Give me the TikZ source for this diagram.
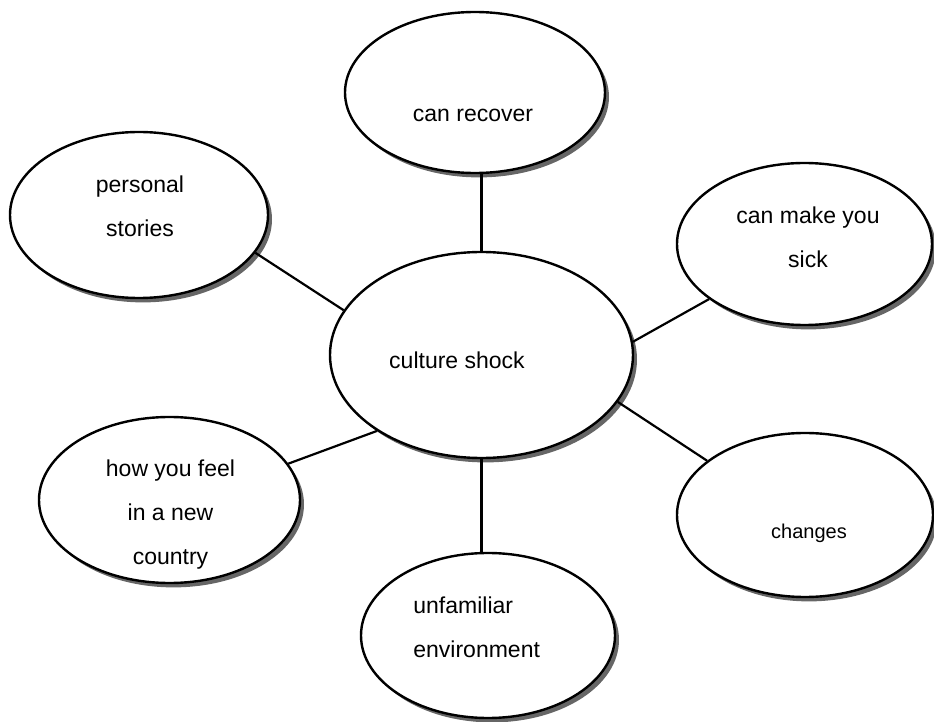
\documentclass[tikz,border=0pt]{standalone}
\usepackage{fontspec}
\setmainfont{Liberation Sans}
\usepackage{tikz}
\usetikzlibrary{shapes,shadows,positioning}
\tikzset{
    bubble/.style={ellipse,draw,line width=1.2pt,fill=white,inner sep=0pt,
        drop shadow={shadow xshift=2pt,shadow yshift=-2.2pt,fill=black!60,opacity=1}},
    bubbletext/.style={inner sep=0pt,align=center,font=\fontsize{11.5}{22}\selectfont},
    link/.style={draw,line width=1.1pt},
}
\begin{document}
\begin{tikzpicture}[x=0.5pt,y=-0.5pt]
\useasboundingbox (0,0) rectangle (934,722);

\node[bubble,minimum width=130pt,minimum height=80.5pt]   (recover)    at (475,92.5) {};
\node[bubble,minimum width=129pt,minimum height=83pt]     (personal)   at (139,215)  {};
\node[bubble,minimum width=127.5pt,minimum height=81pt]   (sick)       at (804.5,244) {};
\node[bubble,minimum width=151.5pt,minimum height=103pt]  (shock)      at (481.5,355) {};
\node[bubble,minimum width=130.5pt,minimum height=83pt]   (feel)       at (169.5,500) {};
\node[bubble,minimum width=128pt,minimum height=82pt]     (changes)    at (805,515)  {};
\node[bubble,minimum width=127pt,minimum height=82.5pt]   (unfamiliar) at (488,635.5) {};

\node[bubbletext] (recovertxt)  at (473,115)   {can recover};
\node[bubbletext] (personaltxt) at (140,206)   {personal\\stories};
\node[bubbletext] (sicktxt)     at (808,237)   {can make you\\sick};
\node[bubbletext] (shocktxt)    at (457,360)   {culture shock};
\node[bubbletext] (feeltxt)     at (170.5,515) {how you feel\\in a new\\country};
\node[bubbletext,font=\fontsize{10}{22}\selectfont] (changestxt) at (809,533) {changes};
\node[bubbletext,align=left,anchor=west] (unfamiliartxt) at (413,627) {unfamiliar\\environment};

\draw[link] (shock.north) -- (shock.north |- recover.south);
\draw[link] (shock.south) -- (shock.south |- unfamiliar.north);
\draw[link] (personal.-18.6) -- (shock.162);
\draw[link] (sick.210) -- (shock.5.3);
\draw[link] (changes.151.3) -- (shock.-19.6);
\draw[link] (feel.17.9) -- (shock.216.2);
\end{tikzpicture}
\end{document}
